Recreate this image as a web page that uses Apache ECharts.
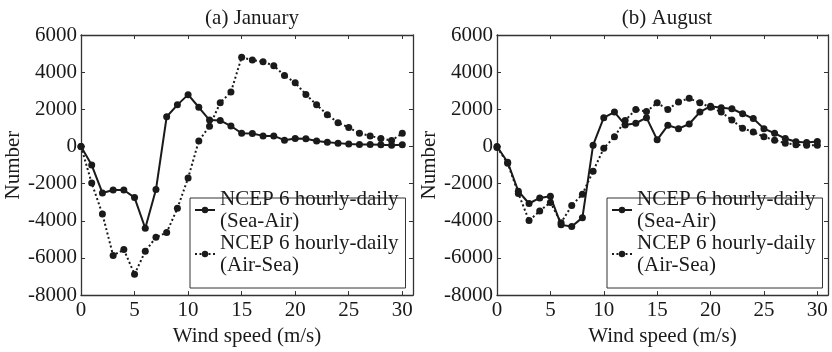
<!DOCTYPE html>
<html>
<head>
<meta charset="utf-8">
<script src="https://cdn.jsdelivr.net/npm/echarts@6/dist/echarts.min.js"></script>
<style>html,body{margin:0;padding:0;background:#fff}#c{width:832px;height:352px}</style>
</head>
<body>
<div id="c"></div>
<script>
const windSpeed = [0,1,2,3,4,5,6,7,8,9,10,11,12,13,14,15,16,17,18,19,20,21,22,23,24,25,26,27,28,29,30];
const janSeaAir = [0,-1000,-2500,-2340,-2340,-2750,-4400,-2320,1600,2240,2790,2110,1420,1400,1100,710,700,570,570,340,430,420,290,230,180,130,110,110,90,70,90];
const janAirSea = [0,-1970,-3640,-5870,-5550,-6880,-5640,-4890,-4630,-3330,-1700,300,1090,2350,2930,4800,4650,4560,4350,3820,3430,2800,2240,1710,1280,1020,710,570,430,320,710];
const augSeaAir = [0,-850,-2410,-3070,-2770,-2680,-4220,-4310,-3830,70,1550,1850,1160,1250,1550,360,1140,960,1210,1850,2170,2080,2030,1760,1500,960,710,430,250,220,270];
const augAirSea = [-50,-900,-2530,-3990,-3480,-3010,-4100,-3180,-2570,-1330,-100,520,1400,1990,1880,2350,1990,2400,2590,2350,2110,1850,1420,980,780,520,340,180,90,70,70];
const panelTitles = ['(a) January', '(b) August'];
const seriesNames = ['NCEP 6 hourly-daily\n(Sea-Air)', 'NCEP 6 hourly-daily\n(Air-Sea)'];
const xName = 'Wind speed (m/s)';
const yName = 'Number';

const FONT = 'Liberation Serif';
const FS = 21;
const INK = '#1a1a1a';
const pair = (ys) => windSpeed.map((x, i) => [x, ys[i]]);

const grids = [
  {left: 81, right: 419, top: 35, bottom: 54},
  {left: 497, right: 4, top: 35, bottom: 54}
];
const axisLineStyle = {color: '#333', width: 1.3};
const tickStyle = {color: '#333', width: 1};

const xAxes = [], yAxes = [];
[0,1].forEach(g => {
  xAxes.push({
    type: 'value', gridIndex: g, min: 0, max: 31, interval: 5, position: 'bottom',
    name: xName, nameLocation: 'middle', nameGap: 29,
    nameTextStyle: {fontFamily: FONT, fontSize: FS, color: INK},
    axisLine: {show: true, onZero: false, lineStyle: axisLineStyle},
    axisTick: {show: true, inside: true, length: 4, lineStyle: tickStyle},
    axisLabel: {fontFamily: FONT, fontSize: FS, color: INK, margin: 5, showMaxLabel: false,
      formatter: v => (v % 5 === 0 ? String(v) : '')},
    splitLine: {show: false}
  });
  xAxes.push({
    type: 'value', gridIndex: g, min: 0, max: 31, interval: 5, position: 'top',
    axisLine: {show: true, onZero: false, lineStyle: axisLineStyle},
    axisTick: {show: true, inside: true, length: 4, lineStyle: tickStyle},
    axisLabel: {show: false}, splitLine: {show: false}
  });
  yAxes.push({
    type: 'value', gridIndex: g, min: -8000, max: 6000, interval: 2000, position: 'left',
    name: yName, nameLocation: 'middle', nameGap: 54,
    nameTextStyle: {fontFamily: FONT, fontSize: FS, color: INK},
    axisLine: {show: true, onZero: false, lineStyle: axisLineStyle},
    axisTick: {show: true, inside: true, length: 4, lineStyle: tickStyle},
    axisLabel: {fontFamily: FONT, fontSize: FS, color: INK, margin: 4, formatter: v => String(v)},
    splitLine: {show: false}
  });
  yAxes.push({
    type: 'value', gridIndex: g, min: -8000, max: 6000, interval: 2000, position: 'right',
    axisLine: {show: true, onZero: false, lineStyle: axisLineStyle},
    axisTick: {show: true, inside: true, length: 4, lineStyle: tickStyle},
    axisLabel: {show: false}, splitLine: {show: false}
  });
});

function mkSeries(name, ys, g, dotted) {
  return {
    name: name, type: 'line', xAxisIndex: g * 2, yAxisIndex: g * 2,
    data: pair(ys), symbol: 'circle', symbolSize: 7, showSymbol: true,
    itemStyle: {color: INK},
    lineStyle: {color: INK, width: 2, type: dotted ? [2, 2.5] : 'solid'},
    z: dotted ? 2 : 3, animation: false
  };
}

const legendCommon = {
  orient: 'vertical', top: 198, itemWidth: 20, itemHeight: 8, itemGap: -22,
  padding: [-21, 7, 1, 4],
  backgroundColor: '#fff', borderColor: '#333', borderWidth: 1,
  textStyle: {fontFamily: FONT, fontSize: FS, color: INK, lineHeight: 22, padding: [22, 0, 0, 0]},
  data: seriesNames
};

const option = {
  animation: false,
  backgroundColor: '#fff',
  title: [
    {text: panelTitles[0], left: 247, top: 3, textAlign: 'center',
     textStyle: {fontFamily: FONT, fontSize: FS, fontWeight: 'normal', color: INK}},
    {text: panelTitles[1], left: 662, top: 3, textAlign: 'center',
     textStyle: {fontFamily: FONT, fontSize: FS, fontWeight: 'normal', color: INK}}
  ],
  grid: grids,
  xAxis: xAxes,
  yAxis: yAxes,
  legend: [
    Object.assign({left: 190}, legendCommon),
    Object.assign({left: 607}, legendCommon)
  ],
  series: [
    mkSeries(seriesNames[1], janAirSea, 0, true),
    mkSeries(seriesNames[0], janSeaAir, 0, false),
    mkSeries(seriesNames[1], augAirSea, 1, true),
    mkSeries(seriesNames[0], augSeaAir, 1, false)
  ]
};
const chart = echarts.init(document.getElementById('c'), null, {renderer: 'canvas'});
chart.setOption(option);
</script>
</body>
</html>
